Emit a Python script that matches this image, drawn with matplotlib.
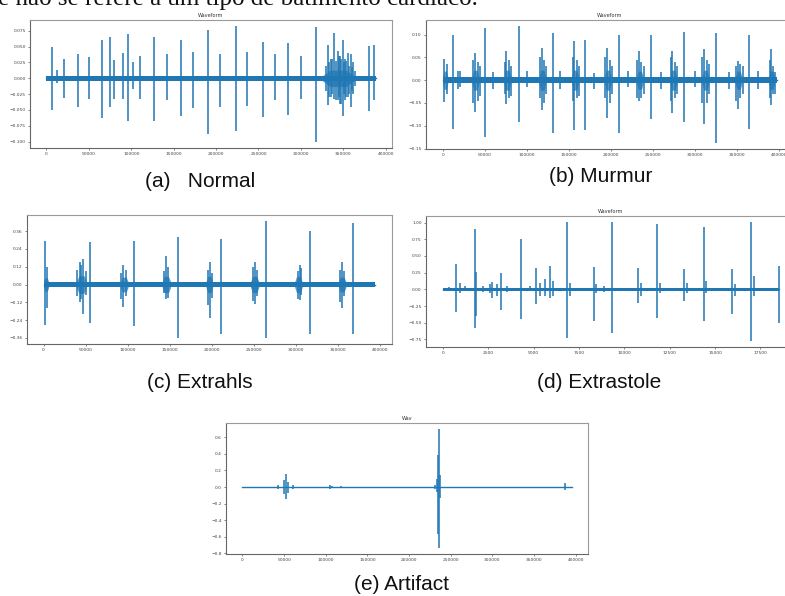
import matplotlib
matplotlib.use("Agg")
import matplotlib.pyplot as plt
from matplotlib.ticker import MultipleLocator, FixedLocator, FuncFormatter

W, H = 785, 596
BLUE = "#1f77b4"

# ---------------- data ----------------
# (a) Normal
a_len = 388000
a_pos = [6650, 12500, 20350, 36800, 49700, 65400, 75150, 79850, 90000, 95900,
         102550, 110400, 126850, 141700, 158100, 172200, 191000, 204300, 223100,
         236800, 255200, 268900, 285300, 300200, 317800, 331500, 335500, 339300,
         343300, 346000, 349100, 352000, 355000, 358900, 362000, 380400, 386300,
         329000, 333000, 337000, 341000, 344500, 347500, 350500, 353500, 357000,
         360500, 364000]
a_up = [0.049, 0.0125, 0.031, 0.039, 0.034, 0.061, 0.065, 0.029, 0.040, 0.070,
        0.025, 0.035, 0.065, 0.039, 0.060, 0.042, 0.077, 0.038, 0.083,
        0.042, 0.057, 0.039, 0.056, 0.035, 0.081, 0.053, 0.030, 0.071,
        0.043, 0.035, 0.061, 0.030, 0.040, 0.038, 0.025, 0.051, 0.053,
        0.020, 0.025, 0.030, 0.028, 0.035, 0.030, 0.025, 0.028, 0.020,
        0.018, 0.012]
a_down = [-0.050, -0.007, -0.031, -0.045, -0.032, -0.063, -0.046, -0.032, -0.033, -0.067,
          -0.017, -0.032, -0.067, -0.035, -0.059, -0.047, -0.088, -0.045, -0.084,
          -0.043, -0.061, -0.034, -0.058, -0.033, -0.101, -0.042, -0.030, -0.033,
          -0.035, -0.040, -0.059, -0.035, -0.030, -0.046, -0.025, -0.051, -0.035,
          -0.020, -0.030, -0.025, -0.035, -0.030, -0.040, -0.025, -0.030, -0.025,
          -0.020, -0.012]
a_base = 0.0035
a_burst_center = [344000]
a_burst_half = [19000]
a_burst_amp = [0.013]

# (b) Murmur
b_len = 398000
b_pos = [2000, 12000, 17900, 37900, 41900, 50600, 75800, 79000, 90900, 117600,
         120400, 130800, 156300, 159500, 169500, 195400, 198600, 209400, 233300,
         236100, 247300, 273200, 276000, 287100, 311100, 314300, 325000, 350900,
         354100, 364900, 390800, 395000,
         4500, 36000, 44000, 74000, 81500, 115500, 123000, 154500, 162000, 193500,
         201000, 231500, 239000, 271000, 279000, 309000, 317000, 349000, 357000,
         389000, 393000,
         20000, 60000, 100000, 140000, 180000, 220000, 260000, 300000, 340000, 375000]
b_up = [0.047, 0.099, 0.020, 0.060, 0.040, 0.115, 0.065, 0.045, 0.119, 0.070,
        0.045, 0.103, 0.086, 0.045, 0.088, 0.070, 0.045, 0.099, 0.063,
        0.040, 0.099, 0.065, 0.040, 0.105, 0.069, 0.045, 0.103, 0.042,
        0.035, 0.099, 0.069, 0.017,
        0.035, 0.045, 0.030, 0.040, 0.030, 0.050, 0.030, 0.050, 0.030, 0.050,
        0.030, 0.045, 0.030, 0.050, 0.030, 0.050, 0.035, 0.030, 0.030,
        0.045, 0.030,
        0.020, 0.018, 0.020, 0.020, 0.015, 0.020, 0.018, 0.020, 0.018, 0.020]
b_down = [-0.048, -0.106, -0.020, -0.070, -0.045, -0.125, -0.052, -0.040, -0.091, -0.065,
          -0.050, -0.115, -0.109, -0.040, -0.109, -0.082, -0.050, -0.116, -0.045,
          -0.040, -0.086, -0.073, -0.040, -0.091, -0.095, -0.050, -0.138, -0.063,
          -0.040, -0.106, -0.055, -0.030,
          -0.030, -0.050, -0.035, -0.030, -0.035, -0.040, -0.030, -0.045, -0.035, -0.040,
          -0.030, -0.040, -0.030, -0.045, -0.030, -0.050, -0.030, -0.045, -0.030,
          -0.040, -0.030,
          -0.015, -0.020, -0.015, -0.020, -0.020, -0.015, -0.020, -0.015, -0.020, -0.020]
b_base = 0.007
b_burst_center = [3000, 39000, 77000, 118500, 157500, 196500, 234500, 274500, 312500, 352000, 391500]
b_burst_half = [3000, 4000, 4000, 4000, 4000, 4000, 4000, 4000, 4000, 4000, 3500]
b_burst_amp = [0.02, 0.022, 0.022, 0.022, 0.022, 0.022, 0.02, 0.022, 0.022, 0.02, 0.02]

# (c) Extrahls
c_len = 394500
c_pos = [1200, 4000, 42700, 47400, 55300, 94900, 107500, 145500, 159300,
         197700, 211500, 251000, 264900, 304400, 317000, 355000, 367600,
         40000, 44500, 50000, 92000, 97500, 143000, 148500, 195000, 200500,
         248500, 254000, 302000, 306500, 352500, 357500]
c_up = [0.294, 0.118, 0.152, 0.174, 0.288, 0.134, 0.294, 0.190, 0.321,
        0.152, 0.310, 0.152, 0.430, 0.129, 0.362, 0.152, 0.417,
        0.10, 0.13, 0.09, 0.08, 0.10, 0.09, 0.12, 0.10, 0.08,
        0.12, 0.10, 0.09, 0.11, 0.10, 0.09]
c_down = [-0.272, -0.158, -0.120, -0.199, -0.263, -0.149, -0.278, -0.097, -0.362,
          -0.229, -0.331, -0.131, -0.358, -0.104, -0.331, -0.158, -0.331,
          -0.08, -0.10, -0.07, -0.10, -0.08, -0.06, -0.09, -0.14, -0.09,
          -0.11, -0.08, -0.10, -0.07, -0.12, -0.08]
c_base = 0.018
c_burst_center = [3000, 45000, 96000, 146000, 197000, 251000, 303000, 355000]
c_burst_half = [3000, 6000, 4500, 5000, 4000, 5000, 4500, 4500]
c_burst_amp = [0.045, 0.06, 0.05, 0.055, 0.055, 0.055, 0.055, 0.05]
c_yticks = [-0.36, -0.24, -0.12, 0.0, 0.12, 0.24, 0.36]

# (d) Extrastole
d_len = 18540
d_pos = [717, 1783, 1838, 2702, 3217, 4301, 5146, 5918, 6837, 8308,
         9318, 10734, 11800, 13270, 14373, 15935, 16983, 18509,
         320, 960, 1230, 2240, 2610, 2980, 3520, 4800, 5360, 5640, 6100,
         7010, 8470, 8900, 10900, 11990, 13450, 14520, 16120, 17150]
d_up = [0.385, 0.90, 0.265, 0.11, 0.25, 0.76, 0.325, 0.35, 1.01, 0.335,
        1.01, 0.325, 0.985, 0.31, 0.935, 0.30, 1.01, 0.35,
        0.03, 0.10, 0.05, 0.05, 0.08, 0.08, 0.05, 0.05, 0.10, 0.15, 0.12,
        0.10, 0.08, 0.05, 0.10, 0.10, 0.10, 0.12, 0.08, 0.20]
d_down = [-0.335, -0.585, -0.40, -0.135, -0.315, -0.45, -0.215, -0.125, -0.725, -0.475,
          -0.65, -0.20, -0.425, -0.175, -0.475, -0.365, -0.775, -0.50,
          -0.02, -0.05, -0.03, -0.04, -0.05, -0.10, -0.04, -0.03, -0.10, -0.10, -0.10,
          -0.10, -0.06, -0.04, -0.10, -0.05, -0.05, -0.05, -0.10, -0.10]
d_base = 0.02

# (e) Artifact
e_len = 394900
e_pos = [42500, 50400, 52400, 54300, 61000, 105500, 107500, 118500,
         231500, 233500, 234300, 235400, 236600, 387000]
e_up = [0.02, 0.08, 0.16, 0.06, 0.02, 0.02, 0.015, 0.01,
        0.03, 0.10, 0.39, 0.70, 0.14, 0.05]
e_down = [-0.02, -0.08, -0.15, -0.07, -0.02, -0.02, -0.015, -0.01,
          -0.02, -0.06, -0.57, -0.735, -0.13, -0.04]
e_base = 0.005

captions = ["(a)   Normal", "(b) Murmur", "(c) Extrahls", "(d) Extrastole", "(e) Artifact"]
titles = ["Waveform", "Waveform", "", "Waveform", "Wav"]
top_text = "e não se refere a um tipo de batimento cardíaco."

# ---------------- drawing ----------------
fig = plt.figure(figsize=(W / 100, H / 100), dpi=100)


def axes_px(left, top, right, bottom):
    return fig.add_axes([left / W, 1 - bottom / H, (right - left) / W, (bottom - top) / H])


def draw(ax, n, pos, up, down, base, bc=None, bh=None, ba=None, lw=1.1):
    xs = [0, n]
    ax.fill_between(xs, [-base, -base], [base, base], color=BLUE, lw=0)
    ax.plot(xs, [0, 0], color=BLUE, lw=1.0)
    if bc:
        for c, h, a in zip(bc, bh, ba):
            ax.fill_between([c - h, c - h / 2, c + h / 2, c + h],
                            [-base, -a, -a, -base], [base, a, a, base],
                            color=BLUE, lw=0, alpha=0.75)
    ax.vlines(pos, down, up, color=BLUE, lw=lw)
    ax.margins(x=0.05, y=0.05)


def style(ax, title):
    for side, sp in ax.spines.items():
        sp.set_linewidth(0.8)
        sp.set_color("#666666" if side in ("left", "bottom") else "#9a9a9a")
    ax.tick_params(labelsize=3.2, length=1.5, width=0.5, pad=1.5,
                   colors="#555555", labelcolor="#444444")
    if title:
        ax.set_title(title, fontsize=3.6, pad=2, color="#333333")


minus = FuncFormatter(lambda v, p: f"{v:.2f}".replace("-", "\u2212"))

# (a)
ax = axes_px(30, 20, 392, 148)
draw(ax, a_len, a_pos, a_up, a_down, a_base, a_burst_center, a_burst_half, a_burst_amp)
ax.xaxis.set_major_locator(MultipleLocator(50000))
ax.yaxis.set_major_locator(MultipleLocator(0.025))
style(ax, titles[0])

# (b)
ax = axes_px(426, 20, 794, 149)
draw(ax, b_len, b_pos, b_up, b_down, b_base, b_burst_center, b_burst_half, b_burst_amp)
ax.xaxis.set_major_locator(MultipleLocator(50000))
ax.yaxis.set_major_locator(MultipleLocator(0.05))
style(ax, titles[1])

# (c)
ax = axes_px(27, 215, 392, 344)
draw(ax, c_len, c_pos, c_up, c_down, c_base, c_burst_center, c_burst_half, c_burst_amp)
ax.xaxis.set_major_locator(MultipleLocator(50000))
ax.yaxis.set_major_locator(FixedLocator(c_yticks))
ax.yaxis.set_major_formatter(minus)
style(ax, titles[2])

# (d)
ax = axes_px(426, 216, 796, 347)
draw(ax, d_len, d_pos, d_up, d_down, d_base, lw=1.1)
ax.xaxis.set_major_locator(MultipleLocator(2500))
ax.yaxis.set_major_locator(MultipleLocator(0.25))
style(ax, titles[3])

# (e)
ax = axes_px(226, 423, 588, 554)
draw(ax, e_len, e_pos, e_up, e_down, e_base)
ax.xaxis.set_major_locator(MultipleLocator(50000))
ax.yaxis.set_major_locator(MultipleLocator(0.2))
style(ax, titles[4])

# captions
cap_xy = [(200, 182), (601, 177), (200, 383), (599, 383), (402, 585)]
for txt, (x, y) in zip(captions, cap_xy):
    fig.text(x / W, 1 - y / H, txt, ha="center", va="center",
             fontsize=15, family="Liberation Sans", color="#111111")

fig.text(-2 / W, 1 - 5.5 / H, top_text, ha="left", va="baseline",
         fontsize=18, family="Liberation Serif", color="#111111")

fig.savefig("out.png", dpi=100)
